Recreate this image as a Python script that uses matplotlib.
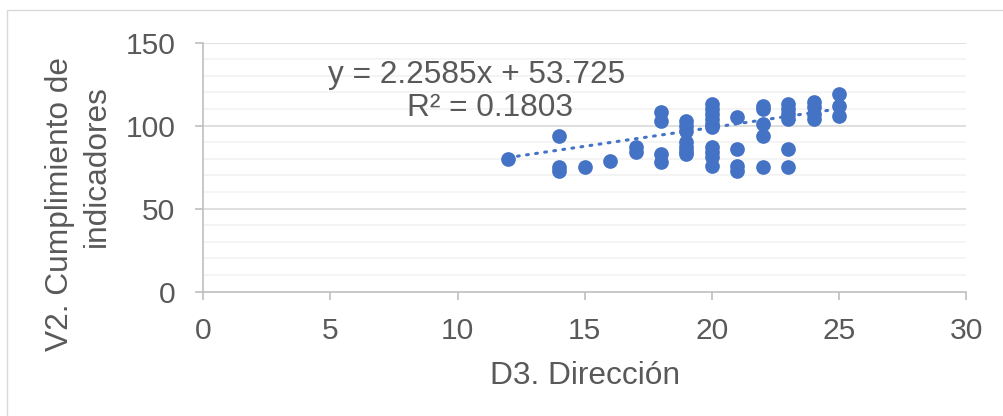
import numpy as np
import matplotlib
matplotlib.use('Agg')
import matplotlib.pyplot as plt
from matplotlib.patches import Rectangle

# data (D3 score, V2 score)
x_vals = [12,
          14, 14, 14,
          15,
          16,
          17, 17,
          18, 18, 18, 18,
          19, 19, 19, 19, 19, 19, 19,
          20, 20, 20, 20, 20, 20, 20, 20, 20, 20,
          21, 21, 21, 21,
          22, 22, 22, 22, 22,
          23, 23, 23, 23, 23, 23,
          24, 24, 24, 24,
          25, 25, 25]
y_vals = [80,
          94, 75, 73,
          75,
          79,
          87, 84,
          108, 103, 83, 78,
          103, 100, 97, 90, 87, 85, 83,
          113, 110, 107, 104, 101, 99, 87, 84, 81, 76,
          105, 86, 76, 73,
          112, 110, 101, 94, 75,
          113, 110, 107, 104, 86, 75,
          114, 111, 107, 104,
          119, 112, 106]

slope = 2.2585
intercept = 53.725
r2 = 0.1803

x_ticks = [0, 5, 10, 15, 20, 25, 30]
y_ticks = [0, 50, 100, 150]

blue = '#4472C4'
txt = '#595959'
plt.rcParams['font.family'] = ['Liberation Sans', 'DejaVu Sans']

fig = plt.figure(figsize=(10.04, 4.16), dpi=100)
fig.patches.append(Rectangle((7 / 1004, -0.1), 1.2, (416 - 10) / 416 + 0.1,
                             transform=fig.transFigure, fill=False,
                             edgecolor='#D9D9D9', linewidth=1))

ax = fig.add_axes([0.2025, 0.2988, 0.7597, 0.5986])

# minor and major horizontal gridlines
for v in range(10, 150, 10):
    if v % 50 != 0:
        ax.axhline(v, color='#F2F2F2', linewidth=1.2, zorder=0)
for v in y_ticks[1:]:
    ax.axhline(v, color='#D9D9D9', linewidth=1.2, zorder=0)

ax.scatter(x_vals, y_vals, s=112, color=blue, zorder=3, linewidths=0)

xt = np.array([min(x_vals), max(x_vals)])
ax.plot(xt, slope * xt + intercept, color=blue, linewidth=2.2,
        linestyle=(0, (0.6, 2.4)), dash_capstyle='round', zorder=2)

ax.set_xlim(0, 30)
ax.set_ylim(0, 150)
ax.set_xticks(x_ticks)
ax.set_yticks(y_ticks)
ax.tick_params(axis='both', direction='out', length=6, width=1.2,
               color='#BFBFBF', labelsize=21.6, labelcolor=txt)
ax.tick_params(axis='x', pad=12)
ax.tick_params(axis='y', pad=14)
for s in ['top', 'right']:
    ax.spines[s].set_visible(False)
for s in ['left', 'bottom']:
    ax.spines[s].set_color('#BFBFBF')
    ax.spines[s].set_linewidth(1.2)

fig.text(585 / 1004, 1 - 376 / 416, 'D3. Dirección', fontsize=22.8,
         color=txt, ha='center', va='center')
fig.text(60 / 1004, 1 - 204 / 416, 'V2. Cumplimiento de', fontsize=22.8,
         color=txt, ha='center', va='center', rotation=90)
fig.text(97 / 1004, 1 - 166 / 416, 'indicadores', fontsize=22.8,
         color=txt, ha='center', va='center', rotation=90)

fig.text(477 / 1004, 1 - 75 / 416, 'y = %.4fx + %.3f' % (slope, intercept),
         fontsize=22.8, color=txt, ha='center', va='center')
fig.text(490 / 1004, 1 - 108 / 416, 'R² = %.4f' % r2,
         fontsize=22.8, color=txt, ha='center', va='center')

fig.savefig('out.png', dpi=100)
